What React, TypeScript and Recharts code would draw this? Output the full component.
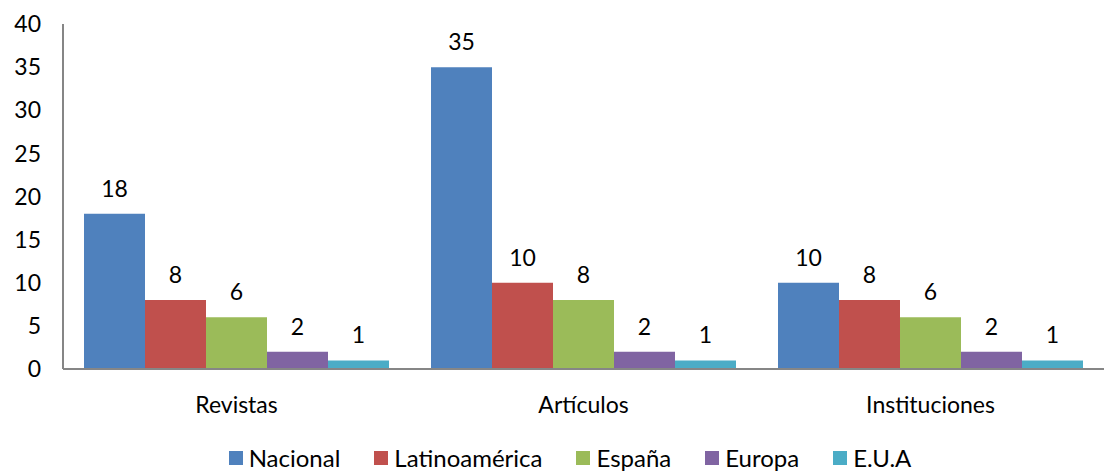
import React from "react";
import {
  BarChart,
  Bar,
  XAxis,
  YAxis,
  Legend,
  LabelList,
} from "recharts";

const categories = ["Revistas", "Artículos", "Instituciones"];
const nacional = [18, 35, 10];
const latinoamerica = [8, 10, 8];
const espana = [6, 8, 6];
const europa = [2, 2, 2];
const eua = [1, 1, 1];
const yTicks = [0, 5, 10, 15, 20, 25, 30, 35, 40];

const SERIES = [
  { key: "nacional", name: "Nacional", color: "#4F81BD" },
  { key: "latinoamerica", name: "Latinoamérica", color: "#C0504D" },
  { key: "espana", name: "España", color: "#9BBB59" },
  { key: "europa", name: "Europa", color: "#8064A2" },
  { key: "eua", name: "E.U.A", color: "#4BACC6" },
];

const data = categories.map((cat, i) => ({
  category: cat,
  nacional: nacional[i],
  latinoamerica: latinoamerica[i],
  espana: espana[i],
  europa: europa[i],
  eua: eua[i],
}));

const FONT = "Lato, 'Open Sans', sans-serif";

function LegendContent() {
  return (
    <div
      style={{
        display: "flex",
        justifyContent: "center",
        gap: 34,
        fontFamily: FONT,
        fontSize: 24,
        color: "#000",
        lineHeight: "26px",
        paddingLeft: 36,
        marginTop: 2,
      }}
    >
      {SERIES.map((s) => (
        <div key={s.key} style={{ display: "flex", alignItems: "center" }}>
          <span
            style={{
              display: "inline-block",
              width: 14,
              height: 14,
              background: s.color,
              marginRight: 6,
            }}
          />
          <span>{s.name}</span>
        </div>
      ))}
    </div>
  );
}

export default function App() {
  return (
    <div style={{ position: "absolute", left: 0, top: 0, background: "#fff" }}>
      <BarChart
        width={1105}
        height={471}
        data={data}
        margin={{ top: 24, right: 1, bottom: 0, left: 0 }}
        barCategoryGap={21}
        barGap={0}
      >
        <XAxis
          dataKey="category"
          axisLine={{ stroke: "#868686", strokeWidth: 2 }}
          tickLine={false}
          tickSize={0}
          tickMargin={28}
          height={74}
          tick={{ fill: "#000", fontSize: 23, fontFamily: FONT }}
        />
        <YAxis
          domain={[0, 40]}
          ticks={yTicks}
          width={63}
          axisLine={{ stroke: "#868686", strokeWidth: 2 }}
          tickLine={false}
          tickSize={0}
          tickMargin={22}
          tick={{ fill: "#000", fontSize: 23, fontFamily: FONT }}
        />
        <Legend verticalAlign="bottom" content={<LegendContent />} />
        {SERIES.map((s) => (
          <Bar
            key={s.key}
            dataKey={s.key}
            name={s.name}
            fill={s.color}
            isAnimationActive={false}
          >
            <LabelList
              dataKey={s.key}
              position="top"
              offset={17}
              fill="#000"
              fontSize={23}
              fontFamily={FONT}
            />
          </Bar>
        ))}
      </BarChart>
    </div>
  );
}
